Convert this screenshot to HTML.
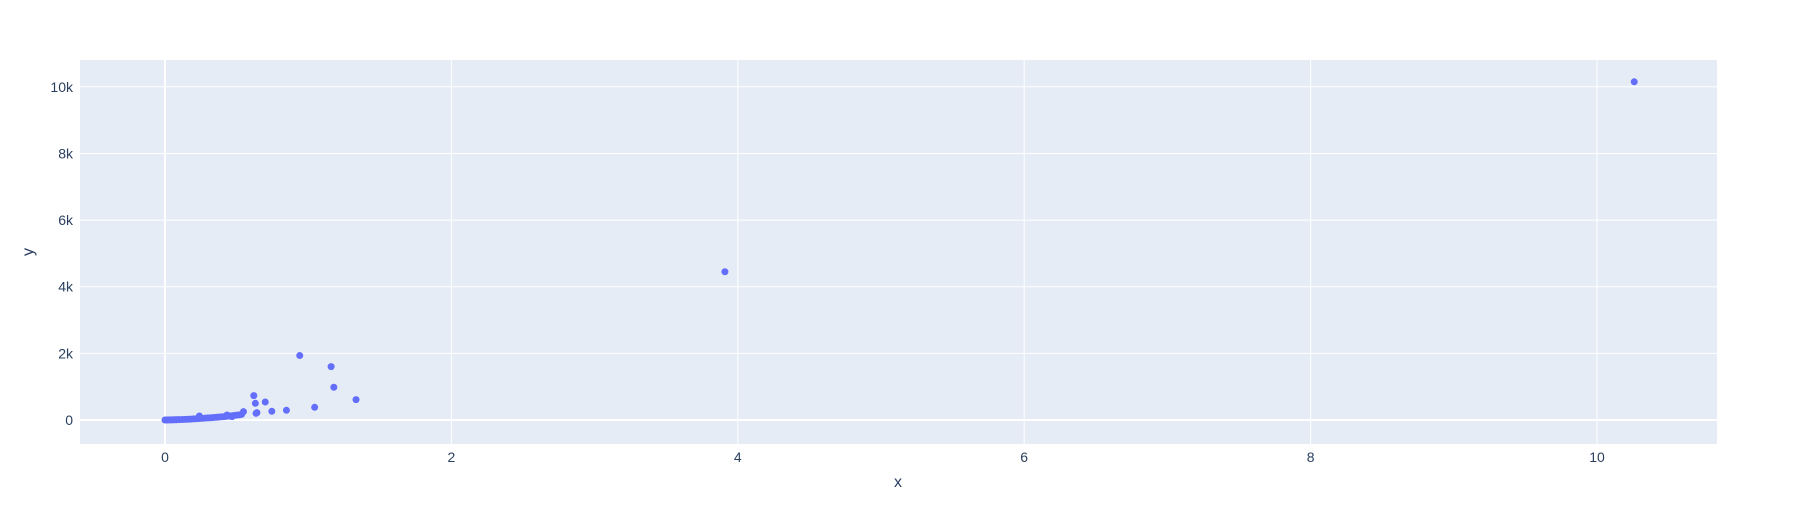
<!DOCTYPE html>
<html><head><meta charset="utf-8"><style>
body{margin:0;background:#fff;}
svg{display:block;font-family:"Liberation Sans",sans-serif;}
</style></head><body>
<svg id="chart" width="1798" height="525">
<rect x="80" y="60" width="1637" height="384" fill="#e5ecf6"/>
<g id="grid"></g><g id="marks"></g><g id="labels"></g>
<text x="898" y="487" font-size="16" fill="#2a3f5f" text-anchor="middle">x</text>
<text x="0" y="0" font-size="16" fill="#2a3f5f" text-anchor="middle" transform="translate(33,252) rotate(-90)">y</text>
</svg>
<script>
const xTicks=[0,2,4,6,8,10];
const yTicks=[0,2000,4000,6000,8000,10000];
const yTickLabels=["0","2k","4k","6k","8k","10k"];
const xs=[0,0.01,0.02,0.03,0.04,0.05,0.06,0.07,0.08,0.09,0.1,0.12,0.14,0.16,0.18,0.2,0.22,0.24,0.26,0.28,0.3,0.32,0.34,0.36,0.38,0.4,0.42,0.44,0.46,0.48,0.5,0.52,0.535,0.548,0.433,0.468,0.24,0.62,0.631,0.642,0.636,0.70,0.746,0.848,0.941,1.045,1.160,1.179,1.334,3.91,10.26];
const ys=[0,1,2,3,4,5,6,7,9,10,12,15,18,22,27,32,38,44,50,56,62,68,75,82,90,98,106,115,124,134,145,155,170,250,150,100,120,731,501,220,200,541,261,291,1934,381,1603,982,611,4450,10150];
const sx=v=>165+(v-0)*143.2;
const sy=v=>420-v*0.03332;
const NS="http://www.w3.org/2000/svg";
const grid=document.getElementById('grid'),marks=document.getElementById('marks'),labels=document.getElementById('labels');
xTicks.forEach(t=>{
 const l=document.createElementNS(NS,'line');
 
 
 l.setAttribute('x1',sx(t));l.setAttribute('x2',sx(t));l.setAttribute('y1',60);l.setAttribute('y2',444);
 l.setAttribute('stroke','#fff');l.setAttribute('stroke-width',t===0?2:1);grid.appendChild(l);
 const tx=document.createElementNS(NS,'text');
 
 
 tx.setAttribute('x',sx(t));tx.setAttribute('y',462);tx.setAttribute('font-size','14');tx.setAttribute('fill','#2a3f5f');tx.setAttribute('text-anchor','middle');
 tx.textContent=t;labels.appendChild(tx);
});
yTicks.forEach((t,i)=>{
 const l=document.createElementNS(NS,'line');
 
 
 l.setAttribute('x1',80);l.setAttribute('x2',1717);l.setAttribute('y1',sy(t));l.setAttribute('y2',sy(t));
 l.setAttribute('stroke','#fff');l.setAttribute('stroke-width',t===0?2:1);grid.appendChild(l);
 const tx=document.createElementNS(NS,'text');
 
 
 tx.setAttribute('x',73);tx.setAttribute('y',sy(t)+5);tx.setAttribute('font-size','14');tx.setAttribute('fill','#2a3f5f');tx.setAttribute('text-anchor','end');
 tx.textContent=yTickLabels[i];labels.appendChild(tx);
});
xs.forEach((x,i)=>{
 const c=document.createElementNS(NS,'circle');
 
 
 c.setAttribute('cx',sx(x));c.setAttribute('cy',sy(ys[i]));c.setAttribute('r',3.5);c.setAttribute('fill','#636efa');
 marks.appendChild(c);
});
</script>
</body></html>
